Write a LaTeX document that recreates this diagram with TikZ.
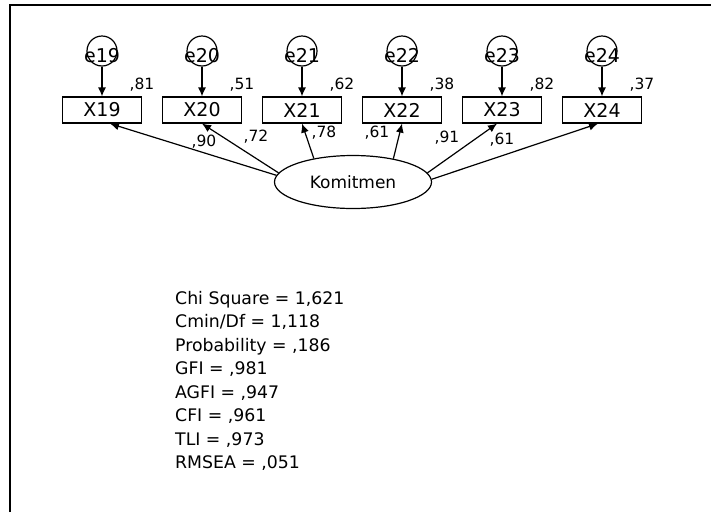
\documentclass[tikz,border=0pt]{standalone}
\usepackage{fontspec}
\setmainfont{DejaVu Sans}
\usetikzlibrary{arrows.meta,shapes.geometric}

\begin{document}
\begin{tikzpicture}[x=1pt,y=-1pt,
  obs/.style={draw,line width=1.2pt,minimum width=79pt,minimum height=26pt,inner sep=0pt,font=\fontsize{19}{19}\selectfont},
  err/.style={draw,circle,line width=1.2pt,minimum size=30pt,inner sep=0pt},
  elab/.style={font=\fontsize{19}{19}\selectfont,yshift=-5pt,inner sep=0pt},
  lat/.style={draw,ellipse,line width=1.2pt,minimum width=157pt,minimum height=53pt,inner sep=0pt,font=\fontsize{17}{17}\selectfont},
  reg/.style={line width=1.2pt,-{Latex[length=9pt,width=8pt]}},
  coef/.style={font=\fontsize{15.5}{15.5}\selectfont,inner sep=0pt}]
  \useasboundingbox (0,0) rectangle (711,512);
  \draw[line width=1.8pt] (10,512) -- (10,5) -- (711,5);
  % indicators
  \node[obs] (x19) at (102,110) {X19};
  \node[obs] (x20) at (202,110) {X20};
  \node[obs] (x21) at (302,110) {X21};
  \node[obs] (x22) at (402,110) {X22};
  \node[obs] (x23) at (502,110) {X23};
  \node[obs] (x24) at (602,110) {X24};
  % errors
  \node[err,label={[elab]center:e19}] (e19) at (102,51) {};
  \node[err,label={[elab]center:e20}] (e20) at (202,51) {};
  \node[err,label={[elab]center:e21}] (e21) at (302,51) {};
  \node[err,label={[elab]center:e22}] (e22) at (402,51) {};
  \node[err,label={[elab]center:e23}] (e23) at (502,51) {};
  \node[err,label={[elab]center:e24}] (e24) at (602,51) {};
  \draw[reg] (e19) -- (x19);
  \draw[reg] (e20) -- (x20);
  \draw[reg] (e21) -- (x21);
  \draw[reg] (e22) -- (x22);
  \draw[reg] (e23) -- (x23);
  \draw[reg] (e24) -- (x24);
  % latent
  \node[lat] (kom) at (353,182) {Komitmen};
  \draw[reg] (kom.175) -- ([xshift=8pt]x19.south);
  \draw[reg] (kom.173) -- (x20.south);
  \draw[reg] (kom.149) -- (x21.south);
  \draw[reg] (kom.30) -- (x22.south);
  \draw[reg] (kom.7) -- ([xshift=-5pt]x23.south);
  \draw[reg] (kom.2) -- ([xshift=-4pt]x24.south);
  % squared multiple correlations
  \node[coef] (r19) at (142,85) {,81};
  \node[coef] (r20) at (242,85) {,51};
  \node[coef] (r21) at (342,85) {,62};
  \node[coef] (r22) at (442,85) {,38};
  \node[coef] (r23) at (542,85) {,82};
  \node[coef] (r24) at (642,85) {,37};
  % loadings
  \node[coef] (l19) at (204,142) {,90};
  \node[coef] (l20) at (256,137) {,72};
  \node[coef] (l21) at (324,133) {,78};
  \node[coef] (l22) at (377,133) {,61};
  \node[coef] (l23) at (447,138) {,91};
  \node[coef] (l24) at (502,140) {,61};
  % fit
  \node[anchor=north west,inner sep=0pt,align=left,font=\fontsize{17.3}{23.5}\selectfont] (fit) at (175,291)
    {Chi Square = 1,621\\Cmin/Df = 1,118\\Probability = ,186\\GFI = ,981\\AGFI = ,947\\CFI = ,961\\TLI = ,973\\RMSEA = ,051};
\end{tikzpicture}
\end{document}
